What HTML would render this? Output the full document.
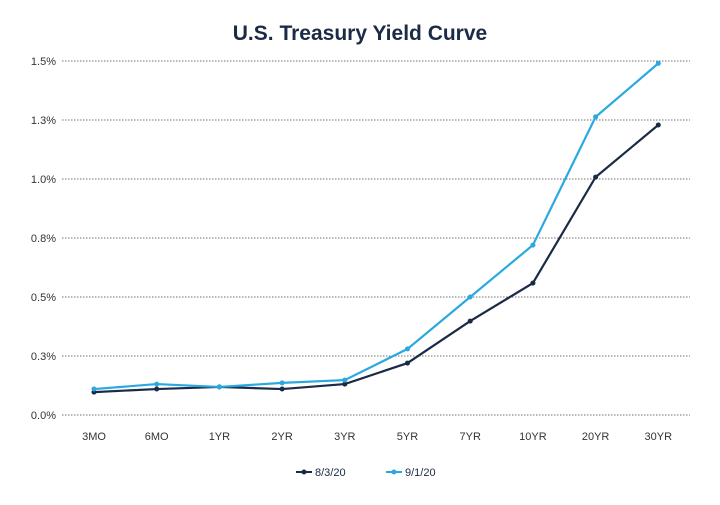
<!DOCTYPE html>
<html><head><meta charset="utf-8"><style>
body{margin:0;background:#fff;font-family:"Liberation Sans",sans-serif;}
</style></head><body>
<svg width="720" height="500" id="c">
<text x="360" y="40" text-anchor="middle" font-size="21" font-weight="bold" fill="#1b2a47">U.S. Treasury Yield Curve</text>
</svg>
<script>
const categories=["3MO","6MO","1YR","2YR","3YR","5YR","7YR","10YR","20YR","30YR"];
const series1=[0.097,0.11,0.119,0.11,0.131,0.22,0.398,0.559,1.008,1.229];
const series2=[0.11,0.131,0.119,0.136,0.148,0.28,0.5,0.72,1.263,1.49];
const tickValues=[0,0.25,0.5,0.75,1.0,1.25,1.5];
const tickLabels=["0.0%","0.3%","0.5%","0.8%","1.0%","1.3%","1.5%"];
const seriesNames=["8/3/20","9/1/20"];
const svg=document.getElementById('c');const NS='http://www.w3.org/2000/svg';
const y=v=>415-v*236;
const x=i=>94+i*62.7;
function mk(t,a){const e=document.createElementNS(NS,t);for(const k in a)e.setAttribute(k,a[k]);svg.appendChild(e);return e;}
tickValues.forEach((v,i)=>{
 const l=mk('line',{x1:62,x2:690,y1:y(v),y2:y(v),stroke:'#444','stroke-width':0.8,'stroke-dasharray':'1.5,1.5'});
 
 
 const t=mk('text',{x:56,y:y(v)+4,'text-anchor':'end','font-size':11,fill:'#333'});t.textContent=tickLabels[i];
 
 
});
categories.forEach((c,i)=>{
 const t=mk('text',{x:x(i),y:440,'text-anchor':'middle','font-size':11,fill:'#333'});t.textContent=c;
 
 
});
[[series1,'#1b2a47'],[series2,'#29a9df']].forEach(([s,col],k)=>{
 const p=mk('polyline',{points:s.map((v,i)=>x(i)+','+y(v)).join(' '),fill:'none',stroke:col,'stroke-width':2.2});
 
 
 s.forEach((v,i)=>{const d=mk('circle',{cx:x(i),cy:y(v),r:2.5,fill:col});
  
  });
 const lx=296+k*90;
 mk('line',{x1:lx,x2:lx+16,y1:472,y2:472,stroke:col,'stroke-width':2});
 mk('circle',{cx:lx+8,cy:472,r:2.5,fill:col});
 const t=mk('text',{x:lx+19,y:476,'font-size':11,fill:'#1b2a47'});t.textContent=seriesNames[k];
 
 
});
</script>
</body></html>
